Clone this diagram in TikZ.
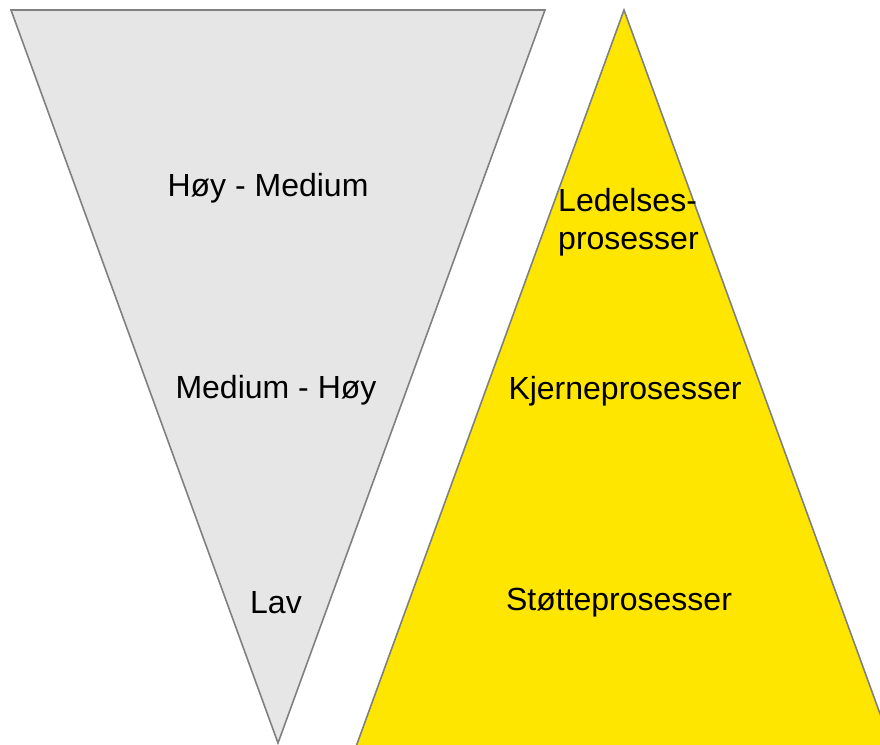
\documentclass[tikz,border=0pt]{standalone}
\usepackage{fontspec}
\setmainfont{Liberation Sans}
\usepackage{tikz}
\usetikzlibrary{positioning}
\definecolor{lowgray}{HTML}{E6E6E6}
\definecolor{edgegray}{HTML}{808080}
\definecolor{procyellow}{HTML}{FFE600}
\tikzset{
    tri/.style={draw=edgegray, line width=1.6pt, line join=miter},
    label text/.style={font=\fontsize{32}{38}\selectfont, inner sep=0pt}
}

\begin{document}
\begin{tikzpicture}[x=1pt, y=-1pt]
% Priority scale next to the process pyramid.
  \useasboundingbox (0,0) rectangle (880,744);
  \clip (0,0) rectangle (880,744);
  \coordinate (lowTL) at (11,10);
  \coordinate (lowTR) at (545,10);
  \coordinate (lowB) at (278,743);
  \coordinate (procT) at (624,10);
  \coordinate (procBL) at (354.8,750);
  \coordinate (procBR) at (893.2,750);
  \draw[tri, fill=lowgray] (lowTL) -- (lowTR) -- (lowB) -- cycle;
  \draw[tri, fill=procyellow] (procT) -- (procBR) -- (procBL) -- cycle;
  \node[label text] (high) at (268,188) {Høy - Medium};
  \node[label text] (medium) at (276,390) {Medium - Høy};
  \node[label text] (low) at (276,603) {Lav};
  \node[label text, anchor=west, align=left] (mgmt) at (558,222) {Ledelses-\\prosesser};
  \node[label text] (core) at (625,391) {Kjerneprosesser};
  \node[label text] (support) at (619,603) {Støtteprosesser};
\end{tikzpicture}
\end{document}
